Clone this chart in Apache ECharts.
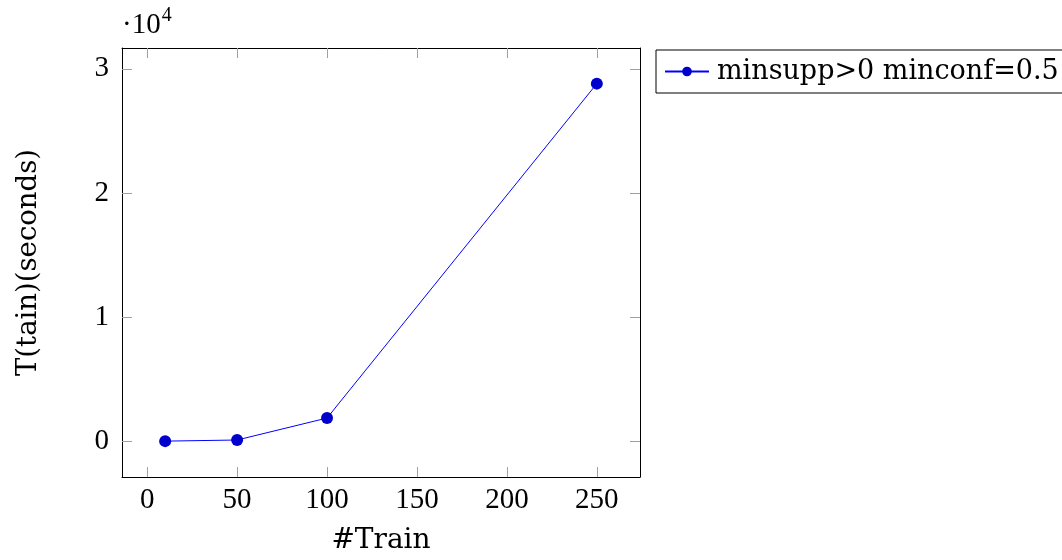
<!DOCTYPE html>
<html>
<head>
<meta charset="utf-8">
<script src="https://cdn.jsdelivr.net/npm/echarts@6/dist/echarts.min.js"></script>
<style>
  html, body { margin: 0; padding: 0; background: #fff; }
  #chart { width: 1062px; height: 560px; }
</style>
</head>
<body>
<div id="chart"></div>
<script>
// values
const trainSizes = [10, 50, 100, 250];
const trainSeconds = [10, 100, 1870, 28810];
const xTicks = [0, 50, 100, 150, 200, 250];
const yTicks = [0, 10000, 20000, 30000];
const seriesName = 'minsupp>0 minconf=0.5';

const numFont = '"Liberation Serif", "DejaVu Serif", serif';
const textFont = '"DejaVu Serif", "Liberation Serif", serif';

// pgfplots-style 10% enlargement of the data range
const xMin = -14, xMax = 274;
const yMin = -2880, yMax = 31680;

const tickStyle = { show: true, inside: true, length: 10, lineStyle: { color: '#a0a0a0', width: 1 } };
const frameLine = { show: true, onZero: false, lineStyle: { color: '#000', width: 1 } };
const numRich = { n: { fontFamily: numFont, fontSize: 29, color: '#000' } };

const chart = echarts.init(document.getElementById('chart'));
chart.setOption({
  animation: false,
  grid: { left: 122, top: 48, width: 518, height: 430 },
  legend: {
    left: 656, top: 50,
    padding: [8, 12, 8, 8],
    borderColor: '#000', borderWidth: 1,
    itemWidth: 44, itemHeight: 12,
    itemGap: 8,
    textStyle: { fontFamily: textFont, fontSize: 27, color: '#000', padding: [0, 0, 0, 3] },
    data: [seriesName],
  },
  graphic: [{
    type: 'text', left: 122, top: 6,
    style: {
      text: '{a|·10}{b|4}',
      rich: {
        a: { fontFamily: numFont, fontSize: 29, fill: '#000', verticalAlign: 'bottom' },
        b: { fontFamily: numFont, fontSize: 20, fill: '#000', verticalAlign: 'top', padding: [0, 0, 14, 1] },
      },
    },
  }],
  xAxis: [{
    type: 'value', min: xMin, max: xMax,
    name: '#Train', nameLocation: 'middle', nameGap: 50,
    nameTextStyle: { fontFamily: textFont, fontSize: 28, color: '#000' },
    axisLine: frameLine,
    axisTick: Object.assign({ customValues: xTicks }, tickStyle),
    axisLabel: {
      customValues: xTicks, margin: 9, rich: numRich,
      formatter: v => '{n|' + v + '}',
    },
    splitLine: { show: false },
  }, {
    type: 'value', min: xMin, max: xMax, position: 'top',
    axisLine: frameLine,
    axisTick: Object.assign({ customValues: xTicks }, tickStyle),
    axisLabel: { show: false },
    splitLine: { show: false },
  }],
  yAxis: [{
    type: 'value', min: yMin, max: yMax,
    name: 'T(tain)(seconds)', nameLocation: 'middle', nameGap: 79, nameRotate: 90,
    nameTextStyle: { fontFamily: textFont, fontSize: 27.5, color: '#000' },
    axisLine: frameLine,
    axisTick: Object.assign({ customValues: yTicks }, tickStyle),
    axisLabel: {
      customValues: yTicks, margin: 13, rich: numRich,
      formatter: v => '{n|' + (v / 10000) + '}',
    },
    splitLine: { show: false },
  }, {
    type: 'value', min: yMin, max: yMax, position: 'right',
    axisLine: frameLine,
    axisTick: Object.assign({ customValues: yTicks }, tickStyle),
    axisLabel: { show: false },
    splitLine: { show: false },
  }],
  series: [{
    name: seriesName,
    type: 'line',
    data: trainSizes.map((x, i) => [x, trainSeconds[i]]),
    symbol: 'circle', symbolSize: 12,
    lineStyle: { color: '#0000ff', width: 1 },
    itemStyle: { color: '#0000cc' },
  }],
});
</script>
</body>
</html>
